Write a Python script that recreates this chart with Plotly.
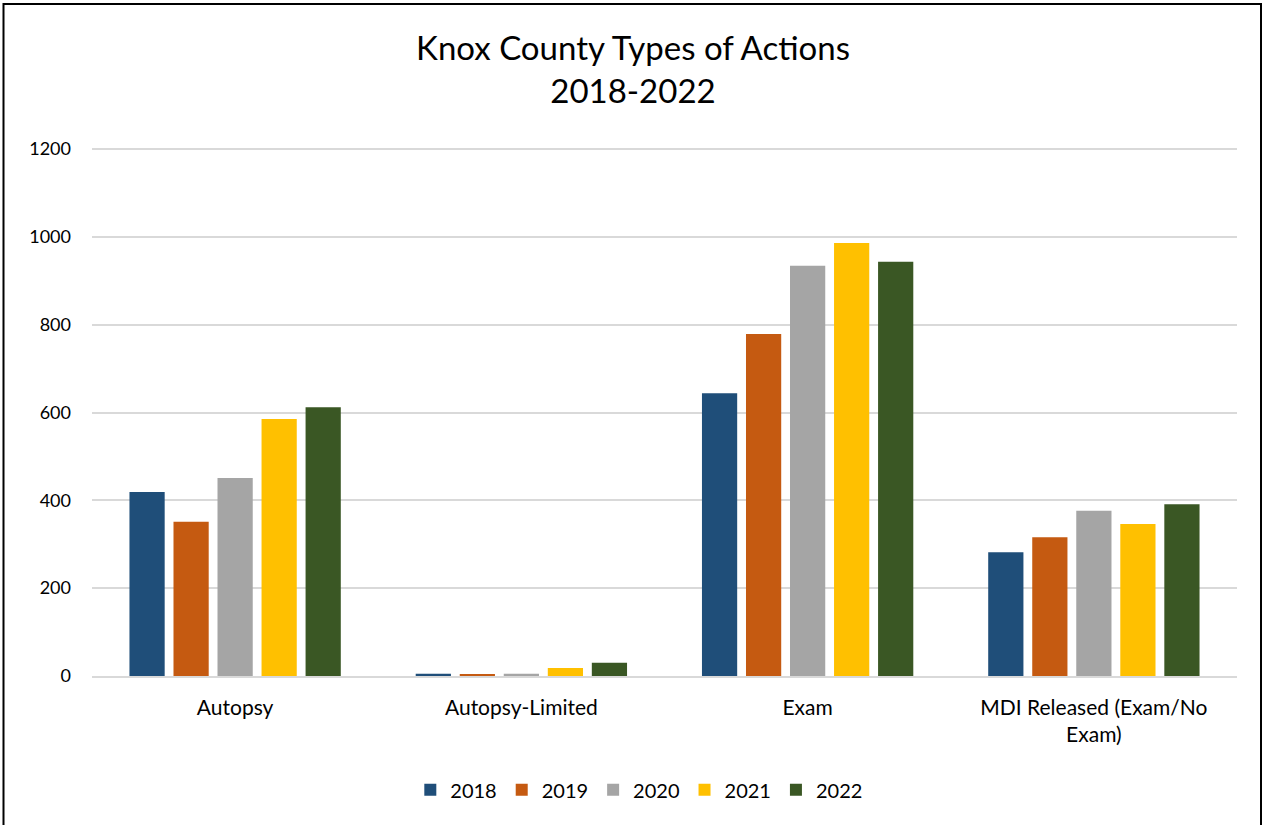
import plotly.graph_objects as go

categories = ["Autopsy", "Autopsy-Limited", "Exam", "MDI Released (Exam/No<br>Exam)"]
years = ["2018", "2019", "2020", "2021", "2022"]
values_2018 = [419, 5, 644, 282]
values_2019 = [351, 3, 779, 316]
values_2020 = [451, 5, 934, 376]
values_2021 = [585, 18, 986, 346]
values_2022 = [612, 30, 943, 391]
colors = ["#1f4e79", "#c55a11", "#a5a5a5", "#ffc000", "#3a5724"]
series = [values_2018, values_2019, values_2020, values_2021, values_2022]

fig = go.Figure()
for yr, vals, col in zip(years, series, colors):
    fig.add_trace(go.Bar(name=yr, x=categories, y=vals, marker_color=col,
                         marker_line_width=0))

W, H = 1266, 825
ML, MR, MT, MB = 92, 29, 147, 149
PW, PH = W - ML - MR, H - MT - MB
y_top = PH / (527 / 1200)

font_family = "Lato, 'Open Sans', sans-serif"
fig.update_layout(
    width=W, height=H,
    margin=dict(l=ML, r=MR, t=MT, b=MB, autoexpand=False),
    paper_bgcolor="white", plot_bgcolor="white",
    barmode="group", bargap=0.231, bargroupgap=0.2,
    font=dict(family=font_family, color="#000000"),
    title=dict(text="Knox County Types of Actions<br>2018-2022", x=0.5, xanchor="center",
               y=0.927, yanchor="top", font=dict(size=33, family=font_family, color="#000000")),
    legend=dict(orientation="h", x=0.478, xanchor="center", y=-0.215, yanchor="middle",
                font=dict(size=20, family=font_family), traceorder="normal",
                itemwidth=30, tracegroupgap=0),
    xaxis=dict(showgrid=False, showline=True, linecolor="#d9d9d9", linewidth=1.5,
               ticks="", tickfont=dict(size=21, family=font_family), ticklabelstandoff=12),
    yaxis=dict(range=[0, y_top], tickvals=[0, 200, 400, 600, 800, 1000, 1200],
               showgrid=True, gridcolor="#d9d9d9", gridwidth=1.5,
               zeroline=False, showline=False, ticks="",
               tickfont=dict(size=18, family=font_family), ticklabelstandoff=20),
    shapes=[dict(type="rect", xref="paper", yref="paper",
                 x0=(3.5 - ML) / PW, x1=(1261 - ML) / PW,
                 y0=((H - MB) - 827) / PH, y1=((H - MB) - 4) / PH,
                 line=dict(color="black", width=2), fillcolor="rgba(0,0,0,0)", layer="above")],
)

fig.write_html("out.html", config={"displayModeBar": False},
               post_script="document.body.style.margin='0';document.body.style.overflow='hidden';")
